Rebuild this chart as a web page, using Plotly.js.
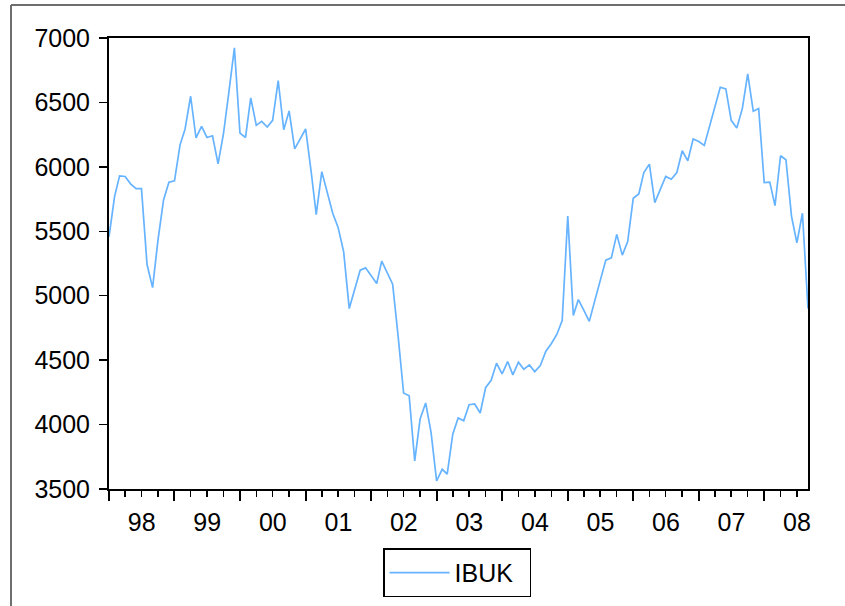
<!DOCTYPE html>
<html>
<head>
<meta charset="utf-8">
<script src="https://cdn.plot.ly/plotly-3.0.1.min.js"></script>
<style>
  html, body { margin: 0; padding: 0; background: #fff; }
  #chart { width: 845px; height: 606px; }
</style>
</head>
<body>
<div id="chart"></div>
<script>
// Monthly series IBUK, 1998M01 - 2008M09
const startYear = 1998;
const startMonth = 1;
const seriesName = "IBUK";
const ibuk = [
  5457, 5769, 5930, 5925, 5868, 5831, 5831, 5242, 5063, 5432, 5743, 5881,
  5891, 6171, 6294, 6548, 6224, 6314, 6228, 6241, 6023, 6257, 6590, 6924,
  6262, 6228, 6535, 6322, 6353, 6309, 6361, 6670, 6288, 6434, 6140, 6218,
  6294, 5960, 5630, 5963, 5798, 5640, 5530, 5340, 4900, 5042, 5198, 5216,
  5157, 5094, 5268, 5172, 5089, 4678, 4245, 4224, 3718, 4043, 4168, 3939,
  3562, 3653, 3615, 3926, 4051, 4030, 4154, 4160, 4090, 4286, 4344, 4476,
  4393, 4489, 4386, 4484, 4429, 4463, 4411, 4458, 4569, 4627, 4699, 4808,
  5618, 4847, 4970, 4886, 4801, 4964, 5120, 5276, 5294, 5476, 5315, 5420,
  5756, 5790, 5956, 6021, 5722, 5823, 5925, 5904, 5956, 6125, 6047, 6216,
  6197, 6166, 6310, 6460, 6618, 6605, 6361, 6301, 6452, 6722, 6431, 6452,
  5878, 5881, 5699, 6086, 6055, 5618, 5410, 5640, 4900
];
const yTicks = [3500, 4000, 4500, 5000, 5500, 6000, 6500, 7000];

// Month dates for each observation
const dates = ibuk.map((v, i) => {
  const m0 = startMonth - 1 + i;
  const y = startYear + Math.floor(m0 / 12);
  const m = (m0 % 12) + 1;
  return y + "-" + String(m).padStart(2, "0") + "-01";
});

const trace = {
  x: dates,
  y: ibuk,
  type: "scatter",
  mode: "lines",
  name: seriesName,
  line: { color: "#66b3ff", width: 1.7 },
  showlegend: true
};

const frameColor = "#6e6e6e";
const layout = {
  width: 845,
  height: 606,
  paper_bgcolor: "#ffffff",
  plot_bgcolor: "#ffffff",
  margin: { l: 109, r: 37, t: 38, b: 117, pad: 0, autoexpand: false },
  font: { family: "Liberation Sans, Arial, sans-serif", size: 25, color: "#000" },
  showlegend: true,
  legend: {
    xref: "container", yref: "container",
    x: 0.4533, y: 0.0545, xanchor: "left", yanchor: "middle",
    orientation: "h",
    bordercolor: "#000", borderwidth: 1.5, bgcolor: "#fff",
    font: { size: 25, color: "#000" },
    itemwidth: 60,
    entrywidth: 70,
    tracegroupgap: 0
  },
  xaxis: {
    type: "date",
    range: [dates[0], dates[dates.length - 1]],
    tickformat: "%y",
    dtick: "M12",
    tick0: "1998-01-01",
    ticklabelmode: "period",
    ticks: "outside",
    ticklen: 10,
    tickwidth: 2,
    tickcolor: "#000",
    minor: { dtick: "M3", ticks: "outside", ticklen: 6, tickwidth: 1.5, tickcolor: "#000" },
    showgrid: false,
    zeroline: false,
    showline: true,
    linecolor: "#000",
    linewidth: 2,
    mirror: true,
    tickfont: { size: 25 },
    fixedrange: true
  },
  yaxis: {
    range: [3500, 7000],
    tickvals: yTicks,
    ticktext: yTicks.map(String),
    ticks: "outside",
    ticklen: 8,
    tickwidth: 1.5,
    tickcolor: "#000",
    ticklabelstandoff: 4,
    showgrid: false,
    zeroline: false,
    showline: true,
    linecolor: "#000",
    linewidth: 2,
    mirror: true,
    tickfont: { size: 25 },
    fixedrange: true
  },
  shapes: [
    { type: "line", xref: "paper", yref: "paper",
      x0: -0.1402, x1: -0.1402, y0: 1.0732, y1: -0.27,
      line: { color: frameColor, width: 2 } },
    { type: "line", xref: "paper", yref: "paper",
      x0: -0.1402, x1: 1.06, y0: 1.0732, y1: 1.0732,
      line: { color: frameColor, width: 2 } }
  ]
};

Plotly.newPlot("chart", [trace], layout, { displayModeBar: false, staticPlot: true });
</script>
</body>
</html>
